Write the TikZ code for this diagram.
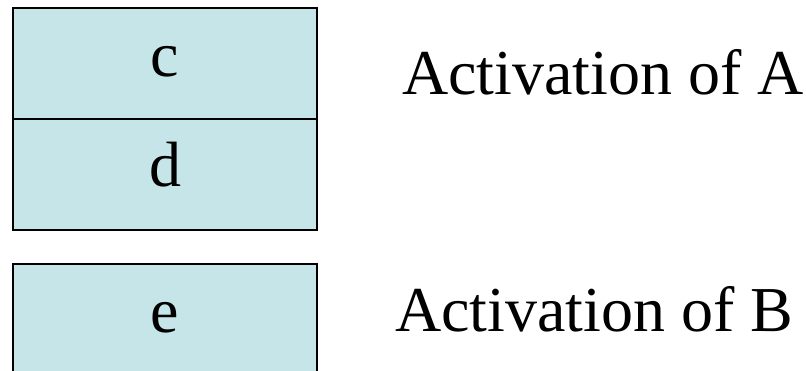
\documentclass[tikz,border=0pt]{standalone}
\usepackage{fontspec}
\setmainfont{Liberation Serif}
\definecolor{cellfill}{HTML}{C5E5E8}
\tikzset{
  cell/.style={draw=black, line width=1.6pt, fill=cellfill},
  lbl/.style={inner sep=0pt, font=\fontsize{64}{64}\selectfont},
}
\begin{document}
\begin{tikzpicture}[x=1pt,y=-1pt]
  \useasboundingbox (0,0) rectangle (806,371);
  % activation record of A: two stacked slots
  \path[cell] (13,8) rectangle (317,119);
  \path[cell] (13,119) rectangle (317,230);
  % activation record of B, running off the bottom edge
  \begin{scope}
    \clip (0,0) rectangle (806,371);
    \path[cell] (13,264) rectangle (317,390);
  \end{scope}
  \node[lbl, anchor=base] (c) at (165,77) {c};
  \node[lbl, anchor=base] (d) at (165,187) {d};
  \node[lbl, anchor=base] (e) at (165,333) {e};
  \node[lbl, anchor=base west] (actA) at (402,95) {Activation of A};
  \node[lbl, anchor=base west] (actB) at (395,332) {Activation of B};
\end{tikzpicture}
\end{document}
